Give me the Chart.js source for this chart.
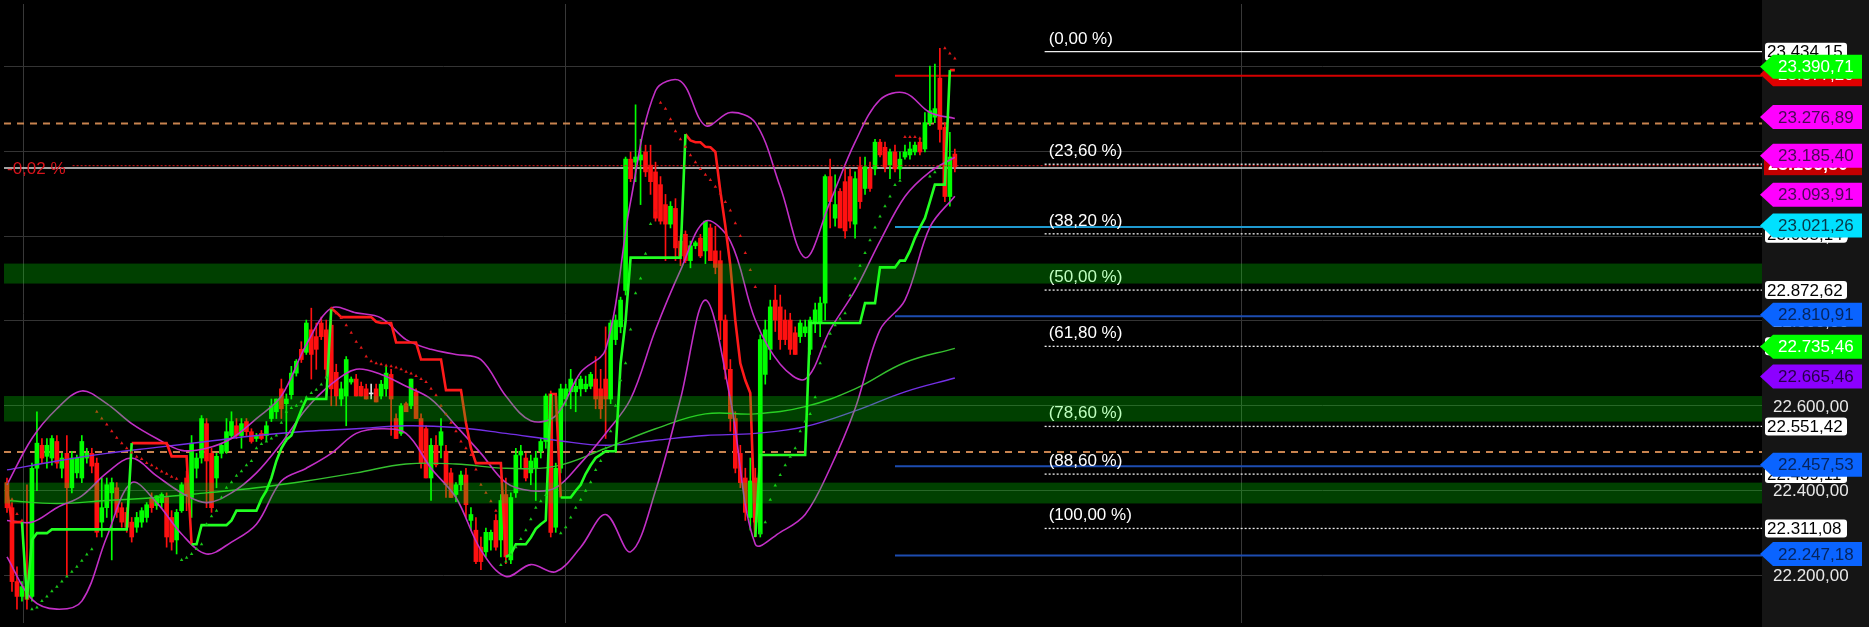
<!DOCTYPE html>
<html>
<head>
<meta charset="utf-8">
<script src="https://cdn.jsdelivr.net/npm/chart.js@4.4.1/dist/chart.umd.min.js"></script>
<style>
html,body{margin:0;padding:0;background:#000;overflow:hidden}
canvas{display:block}
</style>
</head>
<body>
<canvas id="c" width="1869" height="627"></canvas>
<script>
var N = null;

// candles, one per bar index
var open = [22419,22360,22186,22151,22174,22151,22453,22507,22481,22477,
  22516,22453,22488,22407,22442,22430,22477,22488,22465,22326,
  22360,22395,22407,22360,22349,22326,22314,22326,22337,22384,
  22365,22372,22384,22337,22284,22353,22430,22384,22453,22477,
  22558,22488,22430,22488,22493,22530,22553,22530,22563,22539,
  22523,22535,22530,22570,22586,22640,22605,22626,22677,22733,
  22726,22779,22763,22795,22779,22790,22679,22616,22623,22656,
  22663,22646,22640,22628,22640,22623,22640,22674,22570,22535,
  22605,22600,22633,22570,22546,22430,22507,22507,22493,22442,
  22391,22414,22437,22330,22307,22267,22256,22284,22330,22284,
  22391,22237,22395,22484,22477,22442,22453,22493,22516,22628,
  22314,22453,22616,22633,22633,22640,22640,22646,22663,22640,
  22663,22616,22756,22786,22872,23181,23174,23179,23198,23167,
  23151,23121,23074,23028,23065,22988,23004,22942,22977,22995,
  22965,23019,22965,22942,22802,22686,22570,22488,22430,22337,
  22430,22298,22674,22733,22849,22833,22802,22802,22772,22763,
  22772,22733,22795,22795,22842,23140,23042,23105,23128,23140,
  23028,23163,23112,23158,23158,23221,23209,23167,23198,23158,
  23186,23191,23198,23221,23205,23267,23280,23372,23256,23093,
  23193];
var high = [22430,22372,22221,22186,22414,22465,22586,22523,22523,22530,
  22530,22488,22530,22493,22484,22530,22500,22500,22477,22430,
  22430,22430,22419,22372,22360,22337,22349,22360,22372,22395,
  22388,22395,22395,22353,22356,22419,22446,22530,22488,22577,
  22570,22500,22488,22512,22570,22586,22570,22570,22570,22546,
  22535,22542,22563,22616,22616,22663,22628,22693,22709,22751,
  22802,22830,22795,22809,22802,22830,22698,22656,22716,22668,
  22674,22656,22651,22651,22651,22660,22693,22686,22581,22605,
  22609,22663,22640,22581,22553,22523,22530,22570,22507,22453,
  22419,22446,22453,22360,22337,22291,22312,22307,22344,22391,
  22430,22395,22500,22507,22488,22484,22493,22523,22628,22635,
  22465,22651,22651,22686,22663,22670,22670,22679,22716,22686,
  22786,22802,22814,22856,23186,23198,23309,23228,23214,23214,
  23174,23140,23098,23081,23088,23000,23012,22988,22988,23004,
  23035,23028,23023,22965,22814,22709,22586,22507,22453,22477,
  22453,22767,22802,22849,22884,22861,22826,22818,22786,22802,
  22802,22809,22842,22856,23144,23181,23144,23112,23158,23158,
  23151,23186,23186,23174,23228,23228,23221,23205,23214,23198,
  23214,23221,23221,23228,23291,23400,23405,23442,23267,23244,
  23205];
var low = [22349,22163,22121,22140,22121,22140,22400,22465,22453,22460,
  22453,22430,22198,22395,22430,22419,22465,22442,22291,22291,
  22337,22237,22337,22314,22302,22279,22302,22314,22326,22349,
  22356,22360,22267,22260,22251,22349,22353,22337,22430,22465,
  22360,22349,22407,22477,22488,22523,22523,22500,22530,22512,
  22516,22520,22516,22563,22570,22570,22516,22616,22670,22702,
  22721,22663,22686,22756,22663,22600,22600,22600,22553,22651,
  22623,22623,22616,22616,22609,22616,22623,22530,22523,22530,
  22586,22593,22570,22453,22430,22377,22456,22477,22384,22384,
  22374,22400,22337,22307,22228,22214,22244,22260,22260,22244,
  22228,22228,22384,22453,22423,22414,22377,22477,22500,22291,
  22302,22442,22600,22593,22586,22623,22633,22640,22593,22570,
  22523,22605,22744,22772,22861,23128,23128,23074,23140,23098,
  23035,23028,22942,23019,22942,22930,22937,22925,22970,22949,
  22935,22942,22911,22756,22663,22540,22442,22407,22330,22307,
  22291,22291,22651,22709,22775,22733,22744,22721,22721,22749,
  22763,22721,22772,22763,22802,23019,23023,23019,22995,23019,
  22995,23065,23098,23105,23144,23186,23151,23135,23151,23135,
  23181,23181,23191,23191,23198,23260,23267,23221,23081,23070,
  23151];
var close = [22360,22186,22151,22174,22144,22453,22512,22477,22507,22523,
  22465,22477,22407,22477,22477,22516,22488,22458,22302,22360,
  22414,22419,22349,22326,22314,22291,22337,22353,22367,22360,
  22388,22391,22291,22279,22349,22414,22391,22512,22477,22570,
  22470,22360,22481,22507,22539,22563,22530,22558,22539,22516,
  22530,22523,22553,22600,22616,22593,22616,22677,22705,22709,
  22795,22721,22733,22763,22686,22640,22623,22640,22709,22663,
  22623,22623,22616,22628,22609,22651,22677,22616,22523,22600,
  22586,22663,22570,22465,22430,22507,22461,22539,22414,22384,
  22414,22437,22367,22344,22233,22233,22302,22302,22267,22377,
  22244,22384,22484,22493,22430,22470,22477,22516,22623,22302,
  22453,22640,22640,22663,22646,22663,22651,22674,22616,22593,
  22616,22795,22802,22849,23181,23135,23186,23191,23151,23128,
  23042,23035,23028,23070,22972,22953,22942,22977,22984,22953,
  23035,22942,22926,22802,22686,22570,22453,22419,22349,22423,
  22326,22756,22779,22833,22802,22756,22756,22733,22721,22795,
  22786,22802,22826,22842,23140,23081,23074,23019,23012,23035,
  23135,23081,23163,23112,23221,23191,23163,23198,23158,23181,
  23198,23205,23214,23198,23267,23295,23300,23251,23093,23186,
  23163];

// trailing stop line, green under price / red over price
var stUp = [N,N,N,22326,22144,22284,22300,22300,22300,22309,
  22309,22309,22309,22309,22309,22309,22309,22309,22309,22309,
  22309,22309,22309,22309,22309,22512,N,N,N,N,
  N,N,N,N,N,N,N,22274,22274,22319,
  22319,22319,22319,22319,22319,22330,22353,22353,22353,22353,
  22353,22380,22400,22430,22470,22500,22520,22530,22560,22590,
  22616,22616,22616,22616,22616,22830,N,N,N,N,
  N,N,N,N,N,N,N,N,N,N,
  N,N,N,N,N,N,N,N,N,N,
  N,N,N,N,N,N,N,N,N,N,
  22244,22250,22274,22274,22274,22290,22310,22321,22330,22628,
  N,22384,22384,22384,22400,22414,22440,22460,22477,22485,
  22493,22493,22493,22700,22800,22949,22949,22949,22949,22949,
  22949,22949,22949,22949,22949,22949,23240,N,N,N,
  N,N,N,N,N,N,N,N,N,N,
  22291,22484,22484,22484,22484,22484,22484,22484,22484,22484,
  22484,22795,22795,22795,22795,22795,22795,22795,22795,22795,
  22795,22795,22842,22842,22842,22926,22926,22926,22926,22942,
  22942,22965,22995,23020,23042,23081,23121,23121,23121,23390.71,
  N];
var stDn = [22400,22326,22326,22326,N,N,N,N,N,N,
  N,N,N,N,N,N,N,N,N,N,
  N,N,N,N,N,22512,22512,22512,22512,22512,
  22512,22512,22512,22481,22481,22481,22481,22274,N,N,
  N,N,N,N,N,N,N,N,N,N,
  N,N,N,N,N,N,N,N,N,N,
  N,N,N,N,N,22830,22820,22809,22809,22809,
  22809,22809,22809,22809,22798,22795,22795,22795,22749,22749,
  22749,22749,22749,22709,22709,22709,22709,22709,22637,22637,
  22637,22637,22560,22500,22465,22465,22465,22465,22465,22465,
  22244,N,N,N,N,N,N,N,N,22628,
  22628,22384,N,N,N,N,N,N,N,N,
  N,N,N,N,N,N,N,N,N,N,
  N,N,N,N,N,N,23240,23225,23221,23221,
  23210,23209,23198,23105,23023,22930,22800,22700,22660,22630,
  22291,N,N,N,N,N,N,N,N,N,
  N,N,N,N,N,N,N,N,N,N,
  N,N,N,N,N,N,N,N,N,N,
  N,N,N,N,N,N,N,N,N,23390.71,
  23390.71];

// parabolic SAR dots
var sar = [22420,22380,22345,22330,N,22121,22125,22140,22151,22163,
  22174,22186,22198,22209,22221,22235,22250,22262,22586,22570,
  22556,22540,22525,22512,22500,22490,22480,22475,22465,22460,
  22453,22445,22440,22433,22428,22237,22242,22251,22263,22274,
  22321,22340,22353,22384,22407,22420,22435,22446,22460,22470,
  22500,22510,22516,22523,22530,22560,22586,22595,22600,22610,
  22620,22630,22638,22650,22667,22830,22818,22807,22790,22772,
  22751,22737,22716,22705,22700,22698,22695,22693,22690,22686,
  22680,22676,22670,22663,22656,22640,22625,22600,22580,22560,
  22540,22516,22500,22484,22450,22414,22395,22375,22353,22225,
  22233,22250,22267,22286,22307,22333,22360,22375,22390,N,
  N,22300,22314,22337,22360,22379,22400,22420,22449,22470,
  22500,22540,22600,22660,22700,22780,22865,22900,22958,23028,
  23060,23314,23300,23275,23247,23228,23210,23190,23174,23158,
  23144,23132,23116,23100,23080,23060,23030,23000,22960,22920,
  22880,22300,22326,22379,22412,22437,22460,22480,22500,22540,
  22563,22581,22620,22700,22740,22770,22790,22805,22818,22860,
  22900,22930,22960,22990,23020,23046,23070,23093,23120,23130,
  23233,23233,23233,23230,N,23140,23150,23163,23442,23430,
  23418];

// bollinger bands, one value every 5 bars
var bbStep = 5;
var bbUpper = [22414,22523,22593,22635,22605,22558,22523,22495,22500,22523,22570,22623,22744,22830,22819,22807,22756,22733,22721,22709,
  22623,22565,22577,22679,22733,23081,23342,23365,23260,23291,23267,23116,22949,23081,23221,23321,23337,23291,23276.89];
var bbMid = [22330,22326,22360,22388,22442,22477,22435,22395,22372,22395,22442,22512,22593,22651,22686,22674,22646,22616,22553,22488,
  22419,22400,22407,22465,22535,22616,22779,22919,23035,22988,22802,22698,22663,22779,22872,22988,23093,23151,23185.40];
var bbLower = [22244,22144,22121,22140,22291,22419,22372,22298,22251,22279,22321,22423,22453,22488,22535,22546,22535,22453,22384,22260,
  22198,22226,22209,22267,22344,22256,22400,22616,22849,22616,22274,22302,22344,22453,22593,22779,22849,23021,23093.91];

// moving averages, one value every 10 bars
var maStep = 10;
var maFast = [22377,22370,22377,22384,22395,22407,22423,22442,22463,22463,22453,22458,22500,22546,22581,22581,22598,22640,22702,22735.46];
var maSlow = [22449,22470,22488,22502,22516,22530,22540,22546,22553,22549,22535,22519,22507,22519,22530,22535,22551,22588,22633,22665.46];

// levels
var fibPct = ['0,00','23,60','38,20','50,00','61,80','78,60','88,60','100,00'];
var fibPrice = [23434.15,23169.11,23005.14,22872.62,22740.09,22551.42,22439.11,22311.08];
var fibFrom = 208;
var levelFrom = 178;
var blueLevels = [22810.91,22457.53,22247.18];
var cyanLevel = 23021.26;
var redLevel = 23377.20;
var orangeLevels = [23265,22491];
var prevClose = 23160;
var lastPrice = 23166.80;
var changeText = '-0,02 %';
var zones = [[22888,22935],[22563,22623],[22370,22419]];
var dayBreaks = [3.4,112,247.4];
var yTicks = [22200,22400,22600,22800,23000,23200,23400];
var xMin = -0.6, xMax = 351.8;
var yMin = 22088.4, yMax = 23546.5;

var FONT = "'Liberation Sans', Arial, sans-serif";
var GREEN = '#00ff00', RED = '#ff1010';

function fmt(v) {
  var s = v.toFixed(2).split('.');
  return s[0].replace(/\B(?=(\d{3})+(?!\d))/g, '.') + ',' + s[1];
}

function candleColor(ctx) {
  var i = ctx.dataIndex;
  if (close[i] === open[i]) return '#e0e0e0';
  return close[i] > open[i] ? GREEN : RED;
}

function level(p, from, color, width, dash) {
  return {
    type: 'line',
    data: [{x: from, y: p}, {x: xMax, y: p}],
    borderColor: color, borderWidth: width, borderDash: dash || [],
    pointRadius: 0, order: 12
  };
}

function sampled(arr, step) {
  return arr.map(function (v, k) { return {x: k * step, y: v}; });
}

var datasets = [];

// horizontal levels
orangeLevels.forEach(function (p) { datasets.push(level(p, xMin, '#c8834f', 2, [7, 6])); });
datasets.push(level(prevClose, xMin, '#d8d8d8', 1.5));
blueLevels.forEach(function (p) { datasets.push(level(p, levelFrom, '#1d4cb0', 2)); });
datasets.push(level(cyanLevel, levelFrom, '#1f9ad0', 2));
datasets.push(level(redLevel, levelFrom, '#d40000', 2));
fibPrice.forEach(function (p, k) {
  datasets.push(level(p, fibFrom, '#eeeeee', 1.3, k === 0 ? [] : [2, 2]));
});

// candles
datasets.push({
  type: 'bar', order: 10, grouped: false, barThickness: 1,
  data: open.map(function (o, i) { return {x: i, y: [low[i], high[i]]}; }),
  backgroundColor: candleColor
});
datasets.push({
  type: 'bar', order: 9, grouped: false, barThickness: 4, minBarLength: 1,
  data: open.map(function (o, i) { return {x: i, y: [o, close[i]]}; }),
  backgroundColor: candleColor
});

// bands and averages
[bbUpper, bbMid, bbLower].forEach(function (b) {
  datasets.push({type: 'line', order: 6, data: sampled(b, bbStep), borderColor: '#c22fc6', borderWidth: 1.6, tension: 0.35, pointRadius: 0});
});
datasets.push({type: 'line', order: 7, data: sampled(maFast, maStep), borderColor: '#35c02f', borderWidth: 1.4, tension: 0.4, pointRadius: 0});
datasets.push({type: 'line', order: 7, data: sampled(maSlow, maStep), borderColor: '#7430e6', borderWidth: 1.4, tension: 0.4, pointRadius: 0});

// trailing stop
datasets.push({type: 'line', order: 4, data: sampled(stUp, 1), borderColor: '#22ff22', borderWidth: 2.6, pointRadius: 0, spanGaps: false});
datasets.push({type: 'line', order: 4, data: sampled(stDn, 1), borderColor: '#ff1a1a', borderWidth: 2.6, pointRadius: 0, spanGaps: false});

// sar
datasets.push({
  type: 'line', order: 3, showLine: false, data: sampled(sar, 1),
  pointStyle: 'triangle', pointRadius: 2, pointBorderWidth: 0,
  pointBackgroundColor: function (ctx) {
    var i = ctx.dataIndex;
    return sar[i] !== null && sar[i] > close[i] ? '#e01818' : '#19c619';
  }
});

// price tag with an arrow pointing at the axis edge
function tag(c, L, R, y, text, bg, fg) {
  y = y - 1.5;
  c.beginPath();
  c.moveTo(L - 2, y);
  c.lineTo(L + 11, y - 12);
  c.lineTo(R, y - 12);
  c.lineTo(R, y + 12);
  c.lineTo(L + 11, y + 12);
  c.closePath();
  c.fillStyle = bg;
  c.fill();
  c.fillStyle = fg;
  c.fillText(text, L + 16, y + 1);
}

var overlay = {
  id: 'overlay',
  beforeDraw: function (chart) {
    var c = chart.ctx, ys = chart.scales.y;
    c.save();
    c.fillStyle = '#000';
    c.fillRect(0, 0, chart.width, chart.height);
    c.fillStyle = '#151515';
    c.fillRect(ys.left, 0, chart.width - ys.left, chart.height);
    c.restore();
  },
  afterDatasetsDraw: function (chart) {
    var c = chart.ctx, ys = chart.scales.y, xs = chart.scales.x, a = chart.chartArea;
    c.save();
    c.beginPath();
    c.rect(a.left, a.top, a.right - a.left, a.bottom - a.top);
    c.clip();

    // fib texts
    c.font = '17px ' + FONT;
    c.fillStyle = '#ffffff';
    c.textBaseline = 'alphabetic';
    fibPrice.forEach(function (p, k) {
      c.fillText('(' + fibPct[k] + ' %)', xs.getPixelForValue(fibFrom) + 4, ys.getPixelForValue(p) - 8);
    });

    // last price line with change
    var yl = ys.getPixelForValue(lastPrice);
    c.fillStyle = '#d8141c';
    c.textBaseline = 'middle';
    c.fillText(changeText, a.left + 3, yl + 4);
    var tw = c.measureText(changeText).width;
    c.strokeStyle = '#e01a1a';
    c.lineWidth = 1;
    c.setLineDash([2, 2]);
    c.beginPath();
    c.moveTo(a.left + tw + 10, yl + 0.5);
    c.lineTo(a.right, yl + 0.5);
    c.stroke();
    c.setLineDash([]);

    // zones drawn on top, translucent
    c.fillStyle = 'rgba(0,255,0,0.25)';
    zones.forEach(function (z) {
      var y1 = ys.getPixelForValue(z[1]), y0 = ys.getPixelForValue(z[0]);
      c.fillRect(a.left, y1, a.right - a.left, y0 - y1);
    });
    c.restore();
  },
  afterDraw: function (chart) {
    var c = chart.ctx, ys = chart.scales.y;
    var L = ys.left, R = chart.width - 7;
    c.save();
    c.font = '17px ' + FONT;
    c.textBaseline = 'middle';

    // plain price ticks
    c.fillStyle = '#e8e8e8';
    yTicks.forEach(function (v) { c.fillText(fmt(v), L + 11, ys.getPixelForValue(v) + 1); });

    // fib price boxes
    fibPrice.forEach(function (p) {
      var y = ys.getPixelForValue(p);
      c.fillStyle = '#ffffff';
      c.beginPath();
      c.roundRect(L + 3, y - 9, 82, 18, 3);
      c.fill();
      c.fillStyle = '#000';
      c.fillText(fmt(p), L + 5, y + 1);
    });

    tag(c, L, R, ys.getPixelForValue(redLevel), fmt(redLevel), '#e00000', '#ffffff');

    // last price box
    var yl = ys.getPixelForValue(lastPrice);
    c.fillStyle = '#c40000';
    c.fillRect(L + 2, yl - 12, R - L - 2, 22);
    c.fillStyle = '#fff';
    c.font = 'bold 18px ' + FONT;
    c.fillText(fmt(lastPrice), L + 6, yl);
    c.font = '17px ' + FONT;

    tag(c, L, R, ys.getPixelForValue(23390.71) - 2, fmt(23390.71), '#00ff00', '#ffffff');
    tag(c, L, R, ys.getPixelForValue(bbUpper[bbUpper.length - 1]), fmt(bbUpper[bbUpper.length - 1]), '#ff00ff', '#4a0a55');
    tag(c, L, R, ys.getPixelForValue(bbLower[bbLower.length - 1]), fmt(bbLower[bbLower.length - 1]), '#ff00ff', '#4a0a55');
    tag(c, L, R, ys.getPixelForValue(bbMid[bbMid.length - 1]), fmt(bbMid[bbMid.length - 1]), '#ff00ff', '#4a0a55');
    tag(c, L, R, ys.getPixelForValue(cyanLevel), fmt(cyanLevel), '#00e1ff', '#083848');
    tag(c, L, R, ys.getPixelForValue(maFast[maFast.length - 1]), fmt(maFast[maFast.length - 1]), '#00ff00', '#ffffff');
    tag(c, L, R, ys.getPixelForValue(maSlow[maSlow.length - 1]), fmt(maSlow[maSlow.length - 1]), '#8c00ff', '#26004a');
    blueLevels.forEach(function (p) {
      tag(c, L, R, ys.getPixelForValue(p), fmt(p), '#0a64ff', '#06245c');
    });
    c.restore();
  }
};

new Chart(document.getElementById('c'), {
  type: 'line',
  data: {datasets: datasets},
  options: {
    responsive: false,
    animation: false,
    events: [],
    devicePixelRatio: 1,
    layout: {padding: 0},
    plugins: {legend: {display: false}, tooltip: {enabled: false}},
    scales: {
      x: {
        type: 'linear', min: xMin, max: xMax, offset: false,
        afterFit: function (s) { s.height = 0; },
        afterBuildTicks: function (s) { s.ticks = dayBreaks.map(function (v) { return {value: v}; }); },
        grid: {color: '#383838', drawTicks: false, offset: false},
        border: {display: false},
        ticks: {display: false}
      },
      y: {
        position: 'right', min: yMin, max: yMax,
        afterFit: function (s) { s.width = 107; },
        afterBuildTicks: function (s) { s.ticks = yTicks.map(function (v) { return {value: v}; }); },
        grid: {color: '#343434', drawTicks: false},
        border: {display: false},
        ticks: {display: false}
      }
    }
  },
  plugins: [overlay]
});
</script>
</body>
</html>
